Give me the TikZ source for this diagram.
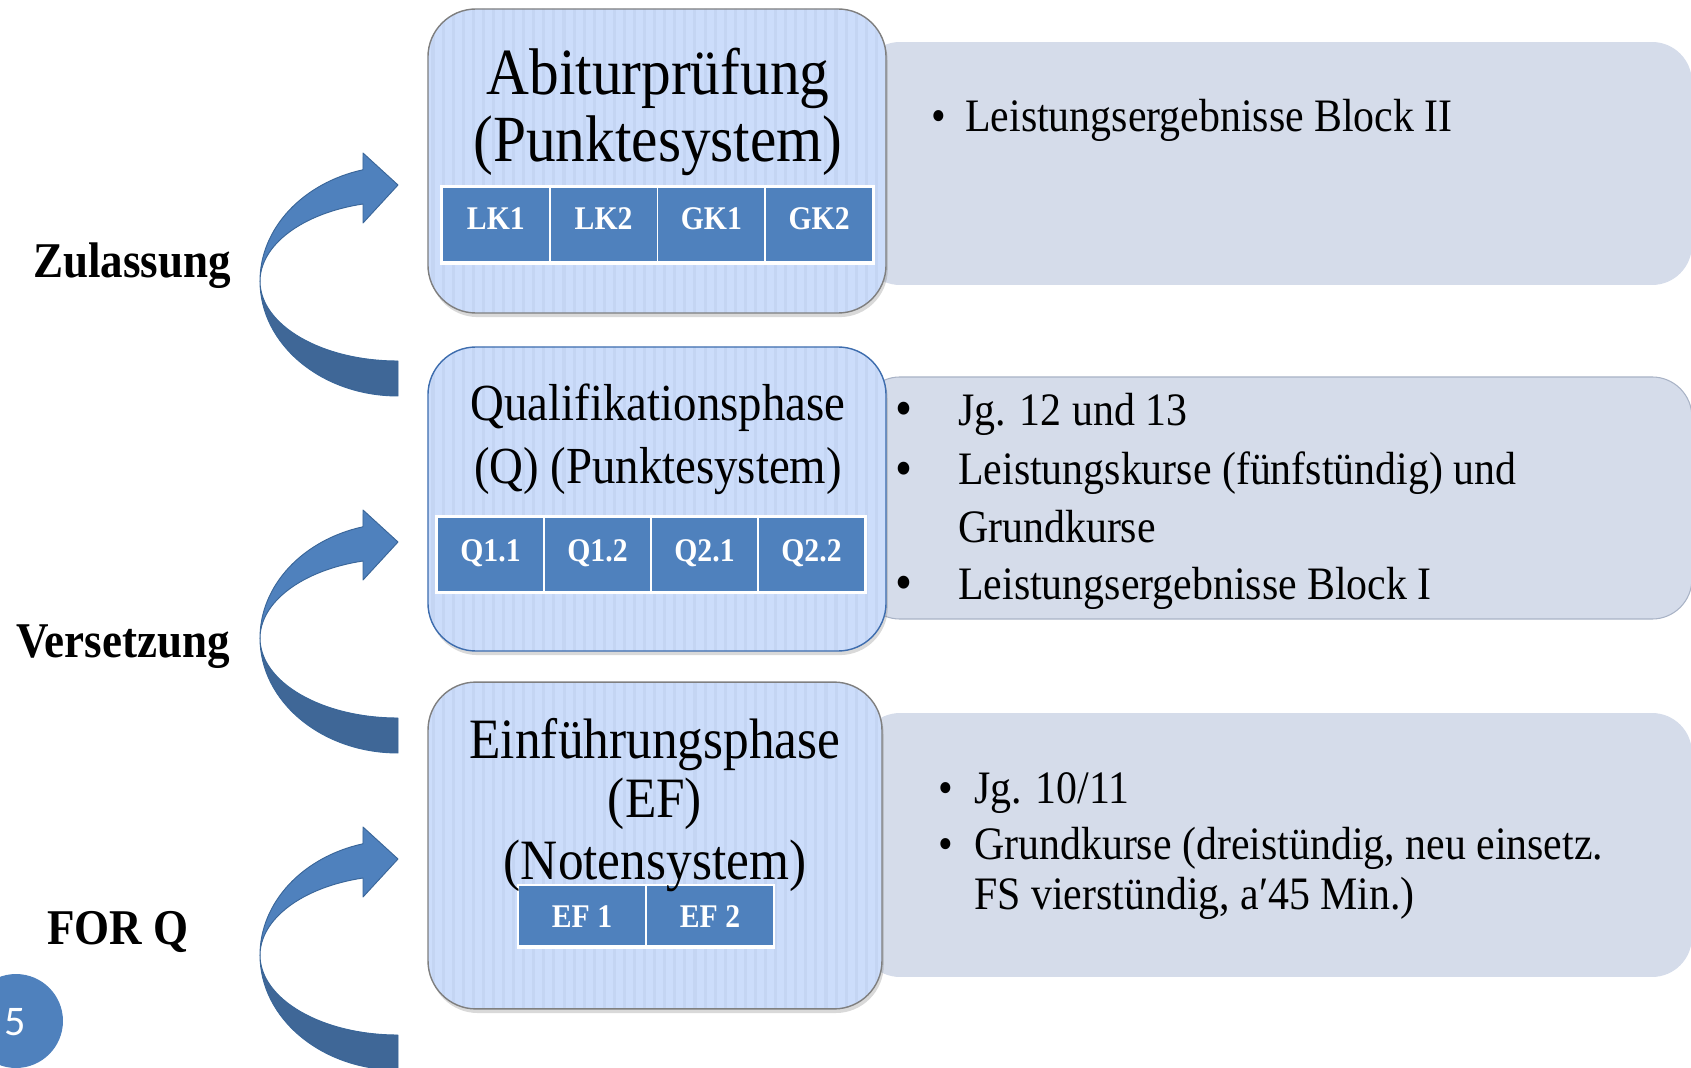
\documentclass[tikz,border=0pt]{standalone}
\usepackage{fontspec}
\setmainfont{Liberation Serif}[FakeStretch=0.9]
\newfontfamily\numfont{Carlito}
\usetikzlibrary{shadows}
\definecolor{boxfill}{HTML}{CCDDFB}
\definecolor{stripe}{HTML}{C4D5F3}
\definecolor{panelfill}{HTML}{D5DCEA}
\definecolor{panelline}{HTML}{A9B3C6}
\definecolor{accent}{HTML}{4F81BD}
\definecolor{accentdark}{HTML}{3F6797}
\definecolor{arrowline}{HTML}{3A6699}
\definecolor{midborder}{HTML}{3E6DAE}
\definecolor{grayborder}{HTML}{7F7F7F}
\tikzset{
  phasebox/.style={rectangle, rounded corners=41pt, fill=boxfill, inner sep=0pt, line width=1.2pt,
    drop shadow={shadow xshift=1.5pt, shadow yshift=-3.5pt, opacity=.3},
    path picture={\foreach \i in {0,...,46}{\fill[stripe, sharp corners] ([xshift=\i*8.6pt+3pt]path picture bounding box.south west) rectangle ++(2.6pt,320pt);}}},
  panel/.style={rectangle, rounded corners=34pt, fill=panelfill, inner sep=0pt},
  strip/.style={rectangle, fill=white, inner sep=0pt},
  cell/.style={rectangle, fill=accent, text=white, inner sep=0pt, anchor=base,
    font=\bfseries\fontsize{28.2}{30}\selectfont},
  txt/.style={inner sep=0pt, anchor=base},
  ltxt/.style={inner sep=0pt, anchor=base west, font=\fontsize{39.7}{42}\selectfont},
  bigbul/.style={inner sep=0pt, anchor=base west, font=\fontsize{46}{48}\selectfont},
  ttlA/.style={txt, font=\fontsize{56.3}{60}\selectfont},
  ttlB/.style={txt, font=\fontsize{44.4}{48}\selectfont},
  ttlC/.style={txt, font=\fontsize{48.7}{52}\selectfont},
  side/.style={txt, font=\bfseries\fontsize{42.7}{46}\selectfont},
  arrowlight/.style={fill=accent, draw=arrowline, line width=0.8pt, line join=round},
  arrowdark/.style={fill=accentdark, draw=arrowline, line width=0.8pt, line join=round},
}
\begin{document}
\begin{tikzpicture}[x=0.85358pt, y=-0.85358pt]
\useasboundingbox (0,0) rectangle (1691,1068);
\clip (0,0) rectangle (1691,1068);

% right panels
\node[panel] (p1) at (1276,163.5) [minimum width=710pt, minimum height=207.4pt] {};
\node[panel, draw=panelline, line width=0.9pt] (p2) at (1276,498) [minimum width=710pt, minimum height=206.6pt] {};
\node[panel] (p3) at (1276,845) [minimum width=710pt, minimum height=225.3pt] {};

% curved arrows
\foreach \c in {281,638,955}{
  \path[arrowdark] (260,\c) arc[start angle=180, end angle=90, x radius=138, y radius=115]
     -- (398,{\c+80}) arc[start angle=90, end angle=180, x radius=138, y radius=80] -- cycle;
  \path[arrowlight] (260,\c) arc[start angle=180, end angle=255.3, x radius=138, y radius=115]
     -- (363,{\c-128}) -- (398,{\c-96}) -- (363,{\c-58}) -- (363,{\c-77})
     arc[start angle=255.3, end angle=180, x radius=138, y radius=80] -- cycle;
}

% phase boxes
\node[phasebox, draw=grayborder] (abi) at (657,161) [minimum width=391pt, minimum height=259.5pt] {};
\node[phasebox, draw=midborder] (qph) at (657,499) [minimum width=391pt, minimum height=259.5pt] {};
\node[phasebox, draw=grayborder] (efp) at (655,845.5) [minimum width=387.5pt, minimum height=279pt] {};

% course strips
\node[strip] (s1) at (657.5,225) [minimum width=371.3pt, minimum height=68.3pt] {};
\node[strip] (s2) at (651,554.5) [minimum width=368.7pt, minimum height=67.4pt] {};
\node[strip] (s3) at (646,916.5) [minimum width=220.2pt, minimum height=55.5pt] {};

\tikzset{topcell/.style={cell, text height=35.85pt, text depth=26.46pt, minimum width=90.5pt},
  midcell/.style={cell, text height=36.7pt, text depth=25.6pt, minimum width=89.6pt},
  botcell/.style={cell, text height=35pt, text depth=15.4pt, minimum width=107.6pt}}
\node[topcell] (lk1) at (495.9,230) {LK1};
\node[topcell] (lk2) at (603.6,230) {LK2};
\node[topcell] (gk1) at (711.4,230) {GK1};
\node[topcell] (gk2) at (819.1,230) {GK2};
\node[midcell] (q11) at (490.5,561) {Q1.1};
\node[midcell] (q12) at (597.5,561) {Q1.2};
\node[midcell] (q21) at (704.5,561) {Q2.1};
\node[midcell] (q22) at (811.5,561) {Q2.2};
\node[botcell] (ef1) at (582,927) {EF 1};
\node[botcell] (ef2) at (710,927) {EF 2};

% titles
\node[ttlA] (abiA) at (658,95) {Abiturprüfung};
\node[ttlA] (abiB) at (658,162) {(Punktesystem)};
\node[ttlB] (qA) at (658,421) {Qualifikationsphase};
\node[ttlB] (qB) at (658,483) {(Q) (Punktesystem)};
\node[ttlC] (eA) at (655,758) {Einführungsphase};
\node[ttlC] (eB) at (655,817) {(EF)};
\node[ttlC] (eC) at (655,879) {(Notensystem)};

% panel texts
\node[ltxt] (b1) at (931,132) {•};
\node[ltxt] (t1) at (965,132) {Leistungsergebnisse Block II};

\node[bigbul] (b2a) at (895,427) {•};
\node[bigbul] (b2b) at (895,486) {•};
\node[bigbul] (b2c) at (895,600) {•};
\node[ltxt] (t2a) at (958,426) {Jg. 12 und 13};
\node[ltxt] (t2b) at (958,485) {Leistungskurse (fünfstündig) und};
\node[ltxt] (t2c) at (958,542) {Grundkurse};
\node[ltxt] (t2d) at (958,599) {Leistungsergebnisse Block I};

\node[ltxt] (b3a) at (938,803) {•};
\node[ltxt] (b3b) at (938,859) {•};
\node[ltxt] (t3a) at (974,803) {Jg. 10/11};
\node[ltxt] (t3b) at (974,859) {Grundkurse (dreistündig, neu einsetz.};
\node[ltxt] (t3c) at (974,909) {FS vierstündig, a′45 Min.)};

% side labels
\node[side] (zul) at (132,278) {Zulassung};
\node[side] (vers) at (123,657) {Versetzung};
\node[side] (forq) at (118,944) {FOR Q};

% page number
\node[circle, fill=accent, minimum size=80.2pt, inner sep=0pt] (pg) at (16,1021) {};
\node[txt, text=white, font=\numfont\fontsize{36}{36}\selectfont] (pgnum) at (15,1035) {5};
\end{tikzpicture}
\end{document}
